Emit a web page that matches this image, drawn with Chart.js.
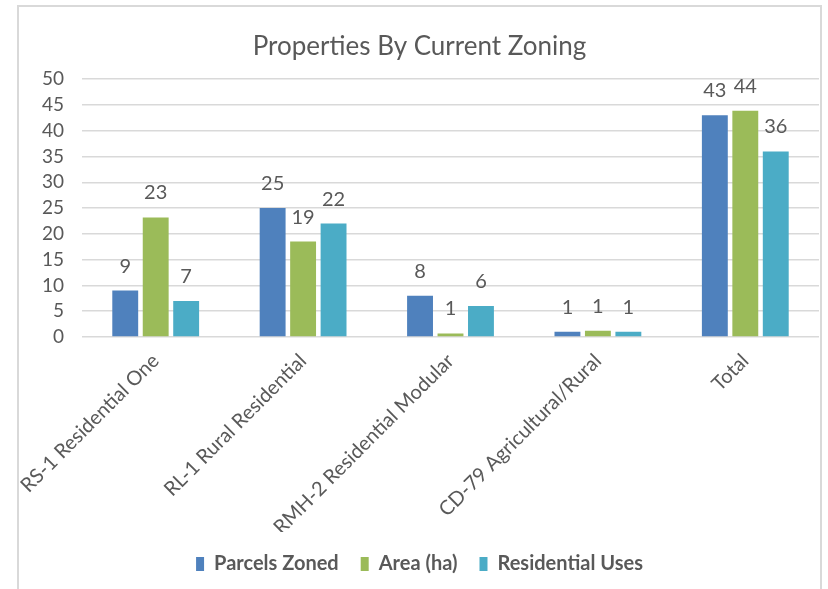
<!DOCTYPE html>
<html>
<head>
<meta charset="utf-8">
<script src="https://cdn.jsdelivr.net/npm/chart.js@4"></script>
<style>
  html, body { margin: 0; padding: 0; background: #fff; }
  #wrap { position: relative; width: 828px; height: 589px; overflow: hidden; }
  #frame { position: absolute; left: 17px; top: 5px; width: 801px; height: 640px;
           border: 2px solid #d9d9d9; pointer-events: none; }
</style>
</head>
<body>
<div id="wrap">
  <canvas id="chart" width="828" height="589"></canvas>
  <div id="frame"></div>
</div>
<script>
// Chart data
const zones = ["RS-1 Residential One", "RL-1 Rural Residential", "RMH-2 Residential Modular", "CD-79 Agricultural/Rural", "Total"];
const parcelsZoned = [9, 25, 8, 1, 43];
const areaHa = [23.2, 18.5, 0.7, 1.2, 43.9];
const residentialUses = [7, 22, 6, 1, 36];
const yTicks = [0, 5, 10, 15, 20, 25, 30, 35, 40, 45, 50];

const textColor = "#595959";
const fontFamily = "Lato, 'Open Sans', sans-serif";

// Value labels above each bar (rounded like the original)
const barLabels = {
    id: "barLabels",
    afterDatasetsDraw(chart) {
        const ctx = chart.ctx;
        ctx.save();
        ctx.fillStyle = textColor;
        ctx.font = "20px " + fontFamily;
        ctx.textAlign = "center";
        ctx.textBaseline = "alphabetic";
        chart.data.datasets.forEach((ds, di) => {
            const meta = chart.getDatasetMeta(di);
            meta.data.forEach((bar, i) => {
                ctx.fillText(String(Math.round(ds.data[i])), bar.x, bar.y - 18);
            });
        });
        ctx.restore();
    }
};

new Chart(document.getElementById("chart"), {
    type: "bar",
    data: {
        labels: zones,
        datasets: [
            { label: "Parcels Zoned", data: parcelsZoned, backgroundColor: "#4f81bd" },
            { label: "Area (ha)", data: areaHa, backgroundColor: "#9bbb59" },
            { label: "Residential Uses", data: residentialUses, backgroundColor: "#4bacc6" }
        ]
    },
    options: {
        responsive: false,
        animation: false,
        categoryPercentage: 0.62,
        barPercentage: 0.85,
        layout: { padding: { left: 20, right: 9, top: 0, bottom: 5 } },
        scales: {
            x: {
                grid: { display: false },
                border: { display: false },
                ticks: {
                    color: textColor,
                    font: { family: fontFamily, size: 20 },
                    minRotation: 45,
                    maxRotation: 45,
                    padding: 4
                },
                afterFit(scale) { scale.height = 195; }
            },
            y: {
                min: 0,
                max: 50,
                afterBuildTicks(scale) { scale.ticks = yTicks.map(v => ({ value: v })); },
                grid: { color: "#d9d9d9", lineWidth: 1.5, drawTicks: false },
                border: { display: false },
                ticks: {
                    color: textColor,
                    font: { family: fontFamily, size: 19 },
                    padding: 18,
                    autoSkip: false
                },
                afterFit(scale) { scale.width = 62; }
            }
        },
        plugins: {
            title: {
                display: true,
                text: "Properties By Current Zoning",
                color: textColor,
                font: { family: fontFamily, size: 26, weight: "normal" },
                padding: { top: 31, bottom: 17 }
            },
            legend: {
                position: "bottom",
                labels: {
                    color: textColor,
                    font: { family: fontFamily, size: 20, weight: "bold" },
                    boxWidth: 8,
                    boxHeight: 14,
                    padding: 22
                }
            },
            tooltip: { enabled: false }
        }
    },
    plugins: [barLabels]
});
</script>
</body>
</html>
